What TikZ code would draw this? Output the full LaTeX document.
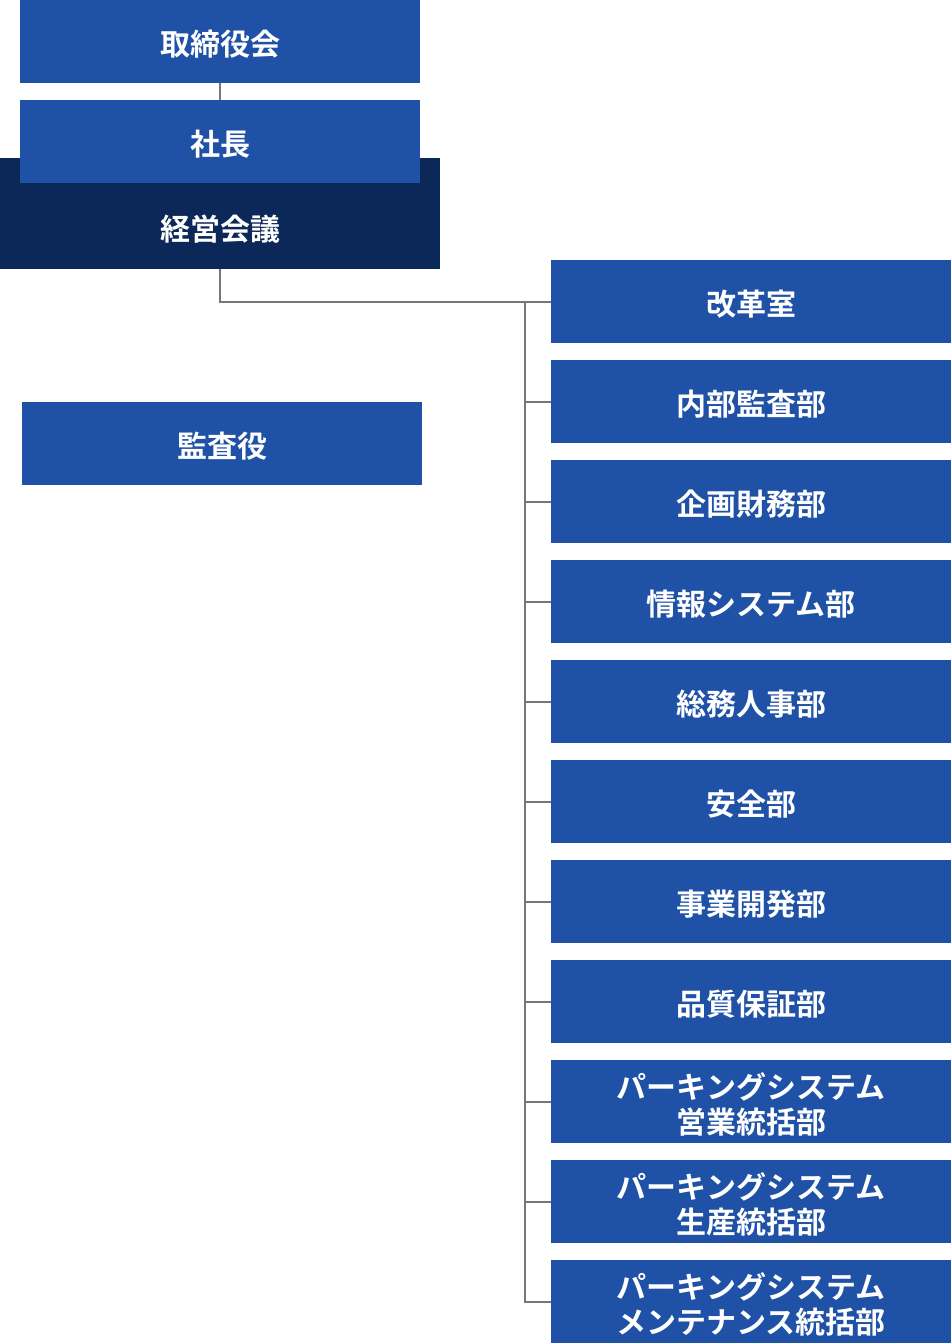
\documentclass[tikz,border=0pt]{standalone}
\usepackage{fontspec}
\newfontfamily\jp{Noto Sans CJK JP Bold}
\definecolor{boxblue}{HTML}{1F52A6}
\definecolor{navy}{HTML}{0B2859}
\definecolor{linegray}{HTML}{777777}
\newcommand\orgnode[3]{%
  \node[orgbox] (#1) at #2 {};
  \node[lbl] (#1t) at ([yshift=-2.5pt]#1.center) {#3};}
\begin{document}
\begin{tikzpicture}[x=1pt,y=-1pt,
  orgbox/.style={fill=boxblue,minimum width=400pt,minimum height=83pt,inner sep=0pt,outer sep=0pt,anchor=north west},
  lbl/.style={text=white,inner sep=0pt,align=center,font=\jp\fontsize{30}{35}\selectfont},
  conn/.style={draw=linegray,line width=2pt}]
\useasboundingbox (0,0) rectangle (951,1344);
\fill[navy] (0,158) rectangle (440,269);
\orgnode{torishimari}{(20,0)}{取締役会}
\orgnode{shacho}{(20,100)}{社長}
\node[lbl] (keiei) at (220,229) {経営会議};
\coordinate (keieibot) at (220,269);
\orgnode{kansa}{(22,402)}{監査役}
\orgnode{b1}{(551,260)}{改革室}
\orgnode{b2}{(551,360)}{内部監査部}
\orgnode{b3}{(551,460)}{企画財務部}
\orgnode{b4}{(551,560)}{情報システム部}
\orgnode{b5}{(551,660)}{総務人事部}
\orgnode{b6}{(551,760)}{安全部}
\orgnode{b7}{(551,860)}{事業開発部}
\orgnode{b8}{(551,960)}{品質保証部}
\orgnode{b9}{(551,1060)}{パーキングシステム\\営業統括部}
\orgnode{b10}{(551,1160)}{パーキングシステム\\生産統括部}
\orgnode{b11}{(551,1260)}{パーキングシステム\\メンテナンス統括部}
\draw[conn] (torishimari.south) -- (shacho.north);
\draw[conn] (keieibot) |- (b1.west);
\coordinate (trunk) at (525,301.5);
\foreach \b in {b2,b3,b4,b5,b6,b7,b8,b9,b10,b11}{
  \draw[conn] (trunk) |- (\b.west);
}
\end{tikzpicture}
\end{document}
